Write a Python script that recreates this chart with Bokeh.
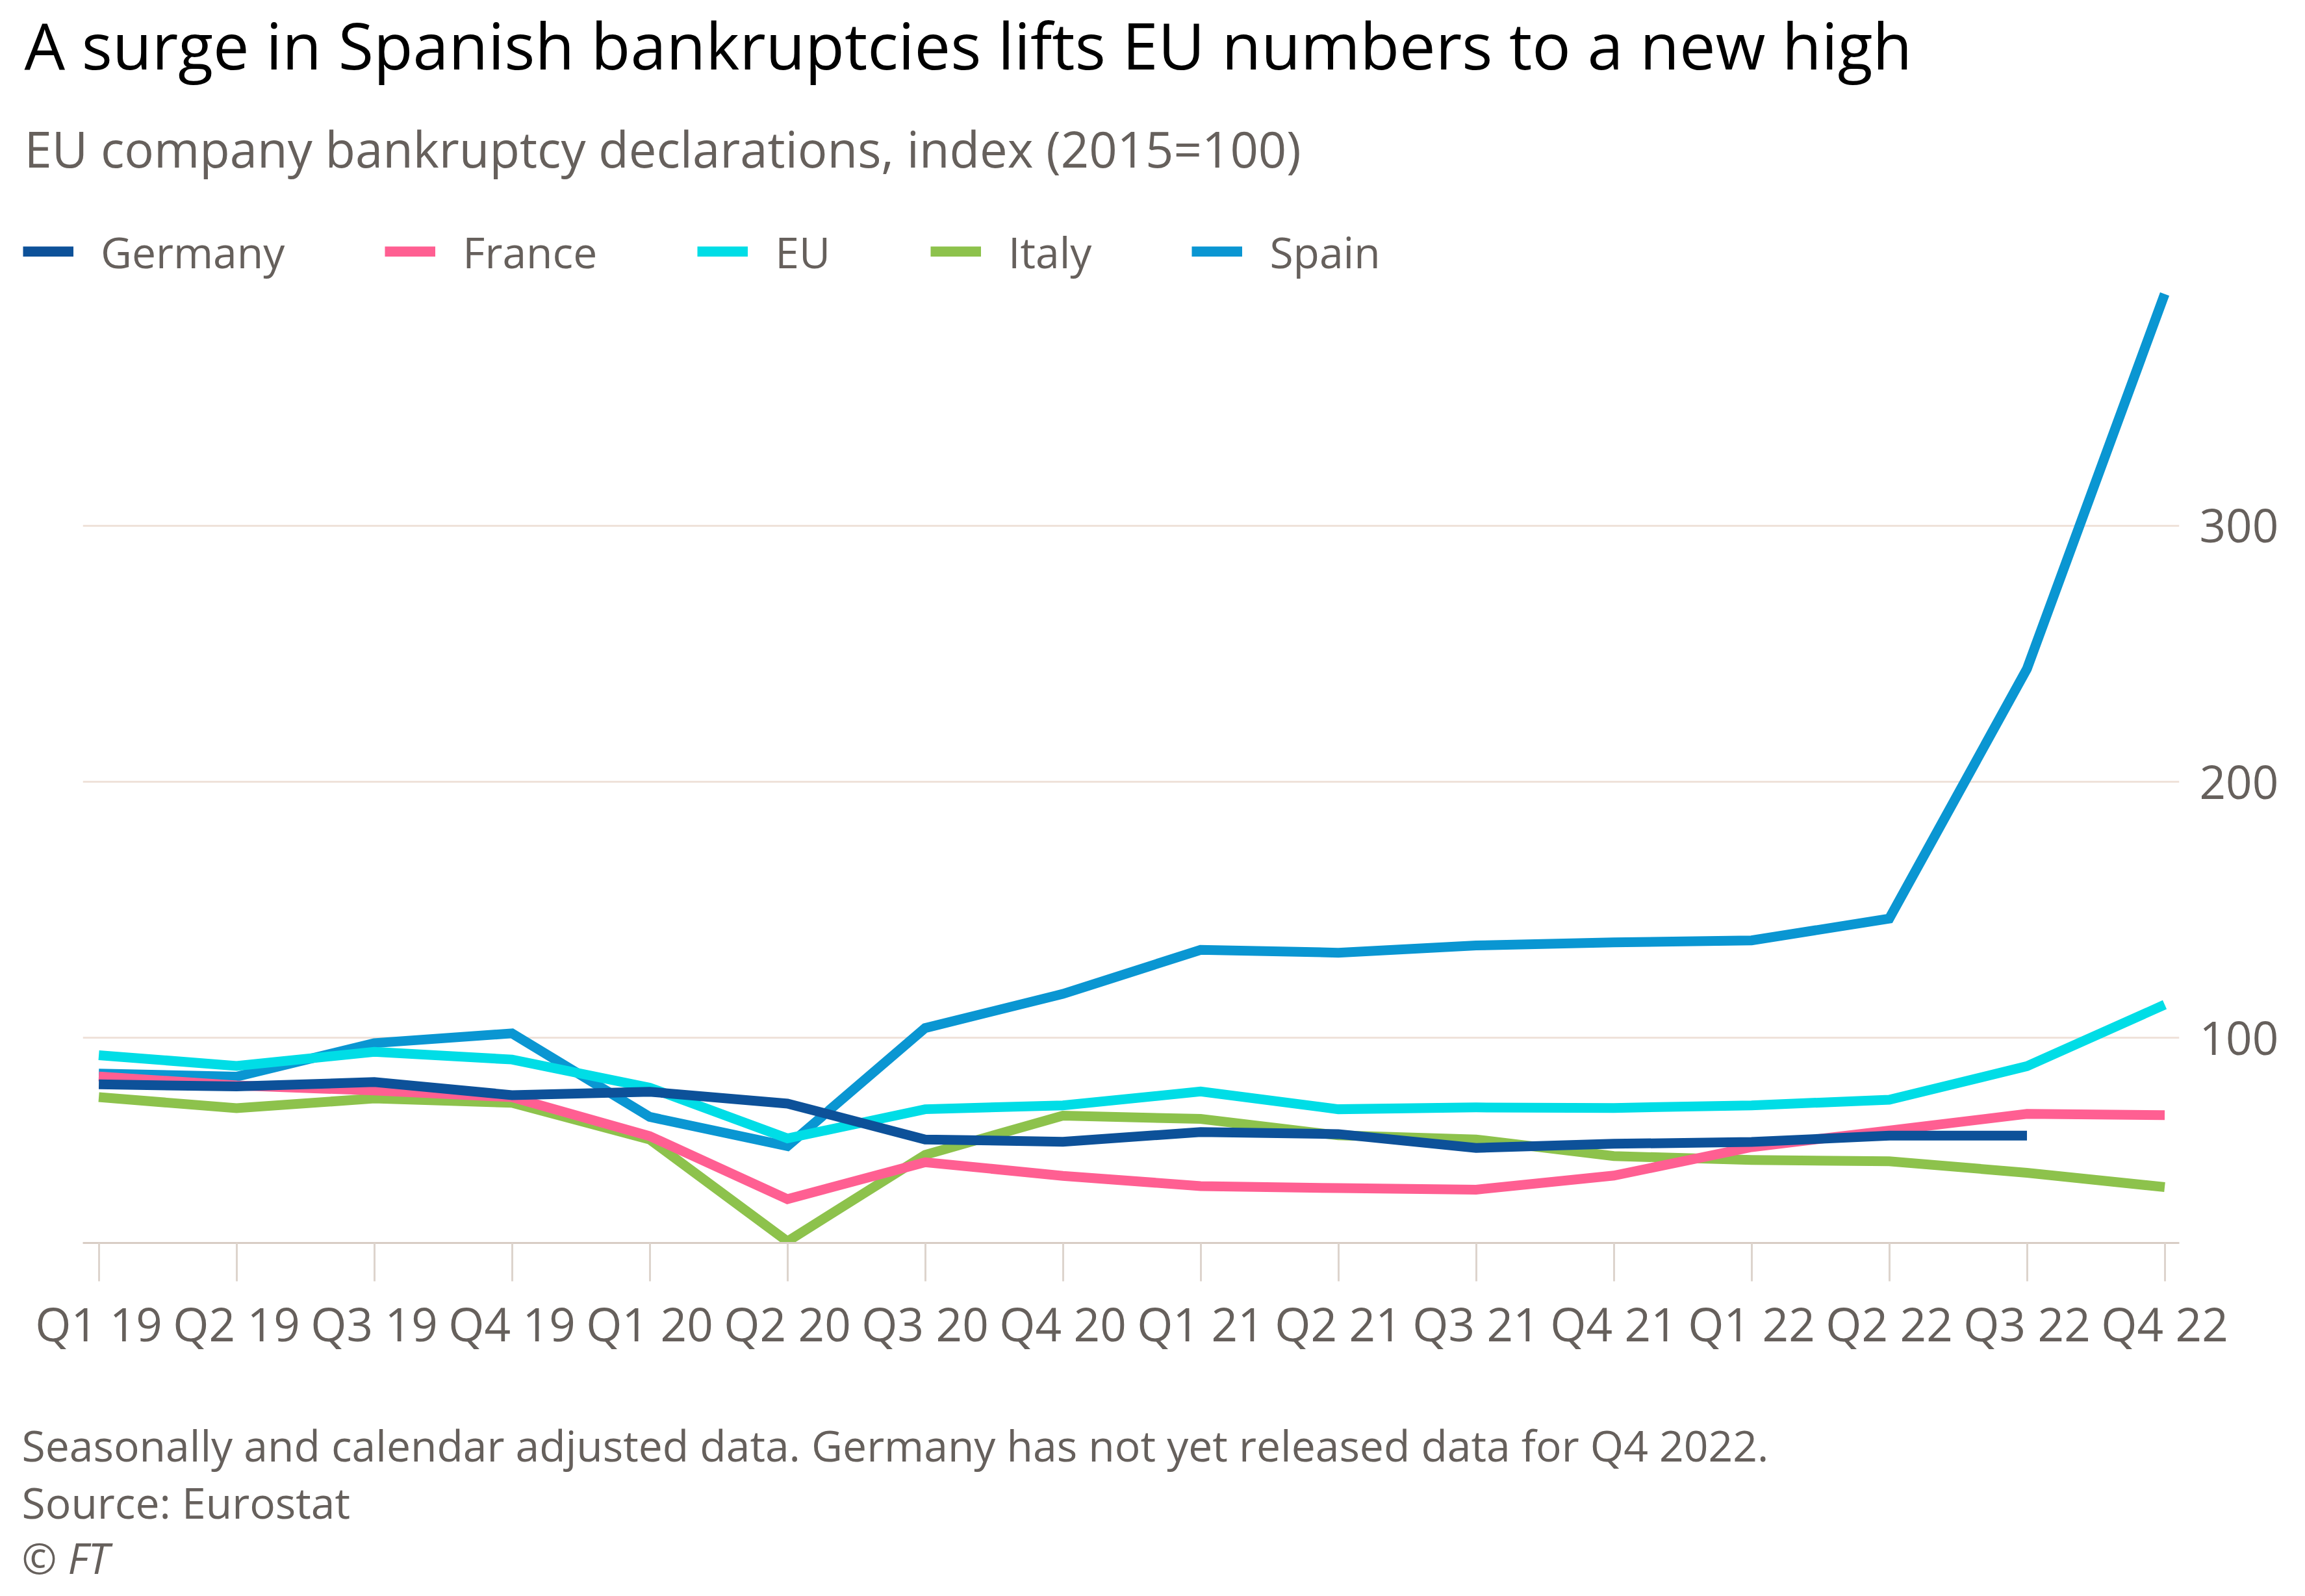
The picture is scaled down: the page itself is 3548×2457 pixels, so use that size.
from bokeh.plotting import figure
from bokeh.layouts import column
from bokeh.models import Range1d, FixedTicker, Legend, LegendItem
from bokeh.core.properties import value
from bokeh.embed import file_html
from bokeh.resources import INLINE

# ---------------- data ----------------
quarters = ["Q1 19", "Q2 19", "Q3 19", "Q4 19", "Q1 20", "Q2 20", "Q3 20", "Q4 20",
            "Q1 21", "Q2 21", "Q3 21", "Q4 21", "Q1 22", "Q2 22", "Q3 22", "Q4 22"]
germany = [81.9, 81.1, 82.8, 77.7, 79.0, 74.4, 60.4, 59.5, 63.3, 62.5, 57.1, 58.7, 59.4, 61.9, 61.9]
france = [85.0, 81.5, 79.5, 76.9, 61.7, 37.1, 51.5, 46.2, 42.2, 41.4, 40.8, 46.3, 57.4, 63.9, 70.4, 69.9]
eu = [93.3, 89.1, 94.6, 91.6, 80.6, 60.8, 72.2, 73.7, 79.1, 72.2, 72.9, 72.7, 73.7, 75.9, 89.0, 113.0]
italy = [76.9, 72.6, 76.4, 74.7, 60.4, 20.6, 54.4, 69.7, 68.4, 62.0, 60.4, 53.9, 52.4, 51.9, 47.4, 41.8]
spain = [86.1, 84.9, 98.0, 101.8, 69.2, 57.8, 103.9, 117.2, 134.4, 133.3, 136.1, 137.3, 138.1, 146.6, 244.1, 390.4]
y_ticks = [100, 200, 300]

series_names = ["Germany", "France", "EU", "Italy", "Spain"]
colors = {"Germany": "#0d5199", "France": "#ff5f92", "EU": "#00dde6",
          "Italy": "#8dc24c", "Spain": "#0a96d2"}
values = {"Germany": germany, "France": france, "EU": eu, "Italy": italy, "Spain": spain}

title_text = "A surge in Spanish bankruptcies lifts EU numbers to a new high"
subtitle_text = "EU company bankruptcy declarations, index (2015=100)"
notes = ["Seasonally and calendar adjusted data. Germany has not yet released data for Q4 2022.",
         "Source: Eurostat"]
credit = "\u00a9 FT"

# ---------------- geometry ----------------
FONT = "Open Sans"
GREY = "#66605c"
W = 3530
HEAD_H = 440          # header (title, subtitle, legend)
FOOT_H = 328          # footnotes
FL, FR = 127, 3354    # frame left/right (canvas px)
FRAME_H = 1473
BOTTOM = 200
Y0 = 20
PX_Y = 3.944
Y1 = Y0 + FRAME_H / PX_Y
X0, X1 = -0.116, 15.106
LINE_W = 15

def panel(h):
    f = figure(width=W, height=h, x_range=Range1d(0, W), y_range=Range1d(h, 0),
               min_border=0, min_border_left=0, min_border_right=0,
               min_border_top=0, min_border_bottom=0, frame_align=False,
               toolbar_location=None, output_backend="svg",
               x_axis_type=None, y_axis_type=None, title=None)
    f.outline_line_color = None
    f.grid.visible = False
    return f

# ---------------- header ----------------
head = panel(HEAD_H)
head.text(x=[37], y=[68], text=[title_text], text_font=value(FONT),
          text_font_size=value("99px"), text_color="#000000", text_baseline="alphabetic")
head.text(x=[37], y=[228], text=[subtitle_text], text_font=value(FONT),
          text_font_size=value("76px"), text_color=GREY, text_baseline="alphabetic")

dummy = {n: head.line(x=[-50, -40], y=[-50, -50], line_color=colors[n], line_width=16,
                      line_cap="butt")
         for n in series_names}
legend = Legend(items=[LegendItem(label=n, renderers=[dummy[n]]) for n in series_names],
                orientation="horizontal", location=(35, 8),
                glyph_width=78, glyph_height=16, label_height=90, label_standoff=42,
                spacing=154, padding=0, margin=0, border_line_color=None,
                background_fill_alpha=0, label_text_font=FONT,
                label_text_font_size="66px", label_text_color=GREY)
head.add_layout(legend, "center")

# ---------------- main chart ----------------
p = figure(width=W, height=FRAME_H + BOTTOM, x_range=Range1d(X0, X1), y_range=Range1d(Y0, Y1),
           output_backend="svg", toolbar_location=None, y_axis_location="right",
           min_border_left=FL, min_border_right=W - FR, min_border_top=0,
           min_border_bottom=BOTTOM, frame_align=False, title=None)
p.background_fill_color = "white"
p.border_fill_color = "white"
p.outline_line_color = None

xi = list(range(len(quarters)))
p.xaxis.ticker = FixedTicker(ticks=xi)
p.xaxis.major_label_overrides = {i: q for i, q in enumerate(quarters)}
p.xaxis.axis_line_color = "#d8cdc5"
p.xaxis.axis_line_width = 3
p.xaxis.major_tick_line_color = "#ddd4cd"
p.xaxis.major_tick_line_width = 3
p.xaxis.major_tick_in = 0
p.xaxis.major_tick_out = 59
p.xaxis.minor_tick_line_color = None
p.xaxis.major_label_text_font = FONT
p.xaxis.major_label_text_font_size = "71px"
p.xaxis.major_label_text_color = GREY
p.xaxis.major_label_standoff = 16

p.yaxis.ticker = FixedTicker(ticks=y_ticks)
p.yaxis.axis_line_color = None
p.yaxis.major_tick_line_color = None
p.yaxis.minor_tick_line_color = None
p.yaxis.major_label_text_font = FONT
p.yaxis.major_label_text_font_size = "71px"
p.yaxis.major_label_text_color = GREY
p.yaxis.major_label_standoff = 25

p.xgrid.visible = False
p.ygrid.ticker = FixedTicker(ticks=y_ticks)
p.ygrid.grid_line_color = "#efe2da"
p.ygrid.grid_line_width = 3

for name in ["Spain", "Italy", "France", "EU", "Germany"]:
    v = values[name]
    p.line(xi[:len(v)], v, line_color=colors[name], line_width=LINE_W,
           line_join="miter", line_cap="butt")

# ---------------- footer ----------------
foot = panel(FOOT_H)
foot.text(x=[33, 33], y=[110, 198], text=notes, text_font=value(FONT),
          text_font_size=value("66px"), text_color=GREY, text_baseline="alphabetic")
foot.text(x=[33], y=[284], text=[credit], text_font=value(FONT), text_font_style="italic",
          text_font_size=value("65px"), text_color=GREY, text_baseline="alphabetic")

layout = column(head, p, foot, spacing=0)
open("out.html", "w").write(file_html(layout, INLINE))
